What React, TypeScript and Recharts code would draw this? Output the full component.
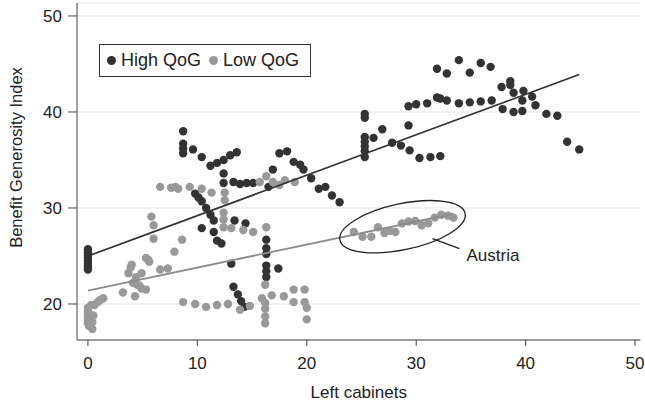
import React from "react";
import {
  ScatterChart,
  Scatter,
  XAxis,
  YAxis,
  CartesianGrid,
  ReferenceDot,
} from "recharts";

// cabinets vs generosity, one point per country-year
const highQoG = [
  { x: 0, y: 25.7 }, { x: 0, y: 25.4 }, { x: 0, y: 25.1 }, { x: 0, y: 24.8 },
  { x: 0, y: 24.5 }, { x: 0, y: 24.2 }, { x: 0, y: 23.9 }, { x: 0, y: 23.6 },
  { x: 8.7, y: 38.0 }, { x: 8.7, y: 36.7 }, { x: 8.7, y: 36.2 }, { x: 8.7, y: 35.7 },
  { x: 9.6, y: 36.1 }, { x: 10.4, y: 35.3 }, { x: 11.2, y: 34.4 }, { x: 11.8, y: 34.7 },
  { x: 12.4, y: 35.0 }, { x: 13.0, y: 35.5 }, { x: 13.6, y: 35.8 },
  { x: 12.4, y: 33.6 }, { x: 12.4, y: 32.6 }, { x: 13.3, y: 32.7 }, { x: 13.9, y: 32.5 },
  { x: 14.5, y: 32.6 }, { x: 15.1, y: 32.6 }, { x: 16.5, y: 32.2 }, { x: 16.9, y: 34.0 },
  { x: 17.5, y: 35.7 }, { x: 18.2, y: 35.9 }, { x: 18.8, y: 34.8 }, { x: 19.4, y: 34.5 },
  { x: 19.7, y: 34.0 }, { x: 20.4, y: 33.1 }, { x: 21.1, y: 32.0 }, { x: 21.7, y: 32.2 },
  { x: 22.3, y: 31.3 }, { x: 23.0, y: 30.6 },
  { x: 9.8, y: 31.5 }, { x: 10.1, y: 31.1 }, { x: 10.4, y: 30.7 }, { x: 10.8, y: 30.0 },
  { x: 11.2, y: 29.3 }, { x: 11.5, y: 28.7 }, { x: 10.4, y: 27.9 }, { x: 11.5, y: 27.5 },
  { x: 11.8, y: 26.6 }, { x: 12.2, y: 26.3 }, { x: 13.4, y: 28.7 }, { x: 14.4, y: 28.4 },
  { x: 13.1, y: 24.2 }, { x: 13.3, y: 21.8 }, { x: 13.7, y: 21.0 }, { x: 14.0, y: 20.3 },
  { x: 14.3, y: 19.7 },
  { x: 16.3, y: 26.7 }, { x: 16.3, y: 25.8 }, { x: 16.3, y: 25.2 }, { x: 16.3, y: 24.0 },
  { x: 16.3, y: 23.4 }, { x: 16.3, y: 22.8 }, { x: 17.4, y: 23.7 },
  { x: 25.3, y: 39.8 }, { x: 25.3, y: 39.4 }, { x: 25.3, y: 37.4 }, { x: 25.3, y: 36.9 },
  { x: 25.3, y: 36.4 }, { x: 25.3, y: 35.9 }, { x: 25.3, y: 35.3 }, { x: 26.1, y: 37.3 },
  { x: 26.9, y: 38.2 }, { x: 27.8, y: 36.8 }, { x: 28.6, y: 36.5 }, { x: 29.4, y: 36.0 },
  { x: 30.3, y: 35.2 }, { x: 31.3, y: 35.3 }, { x: 32.2, y: 35.4 }, { x: 29.3, y: 38.6 },
  { x: 29.3, y: 40.6 }, { x: 30.0, y: 40.8 }, { x: 31.0, y: 40.9 }, { x: 31.9, y: 41.5 },
  { x: 32.2, y: 41.4 }, { x: 32.8, y: 41.2 }, { x: 33.9, y: 40.9 }, { x: 34.9, y: 41.0 },
  { x: 35.9, y: 41.1 }, { x: 36.9, y: 41.2 }, { x: 31.9, y: 44.5 }, { x: 32.8, y: 44.0 },
  { x: 33.9, y: 45.4 }, { x: 34.9, y: 44.1 }, { x: 35.9, y: 45.1 }, { x: 36.8, y: 44.7 },
  { x: 37.8, y: 42.6 }, { x: 38.6, y: 43.2 }, { x: 38.6, y: 42.8 }, { x: 38.9, y: 42.0 },
  { x: 39.8, y: 42.2 }, { x: 39.7, y: 41.2 }, { x: 40.6, y: 41.6 }, { x: 40.9, y: 40.7 },
  { x: 37.9, y: 40.3 }, { x: 38.9, y: 40.0 }, { x: 39.7, y: 40.1 }, { x: 41.9, y: 39.8 },
  { x: 42.9, y: 39.6 }, { x: 43.8, y: 36.9 }, { x: 44.9, y: 36.1 },
];

const lowQoG = [
  { x: 0, y: 19.6 }, { x: 0, y: 19.3 }, { x: 0, y: 18.9 }, { x: 0, y: 18.6 },
  { x: 0, y: 18.3 }, { x: 0, y: 18.0 }, { x: 0.1, y: 17.7 }, { x: 0.4, y: 17.4 },
  { x: 0.3, y: 19.9 }, { x: 0.4, y: 18.1 }, { x: 0.5, y: 18.8 }, { x: 0.6, y: 19.9 },
  { x: 0.9, y: 20.2 }, { x: 1.1, y: 20.4 }, { x: 1.4, y: 20.6 }, { x: 0.2, y: 17.9 },
  { x: 3.2, y: 21.2 }, { x: 3.7, y: 23.2 }, { x: 4.0, y: 24.1 }, { x: 4.1, y: 22.2 },
  { x: 4.3, y: 20.8 }, { x: 4.4, y: 22.8 }, { x: 4.9, y: 23.2 }, { x: 4.9, y: 21.6 },
  { x: 5.3, y: 21.5 }, { x: 5.3, y: 24.8 }, { x: 5.6, y: 24.4 }, { x: 5.5, y: 24.6 },
  { x: 6.6, y: 23.6 }, { x: 7.3, y: 23.7 }, { x: 7.9, y: 25.45 }, { x: 8.6, y: 26.7 },
  { x: 3.9, y: 23.8 }, { x: 4.5, y: 22.0 }, { x: 4.7, y: 21.9 },
  { x: 5.8, y: 29.1 }, { x: 6.0, y: 28.2 }, { x: 6.0, y: 26.8 },
  { x: 6.6, y: 32.2 }, { x: 7.6, y: 32.1 }, { x: 8.0, y: 32.2 }, { x: 8.25, y: 32.0 },
  { x: 9.3, y: 32.2 }, { x: 10.4, y: 32.0 }, { x: 11.3, y: 31.6 }, { x: 12.5, y: 31.6 },
  { x: 12.5, y: 30.8 },
  { x: 12.4, y: 29.5 }, { x: 12.4, y: 28.8 }, { x: 12.4, y: 28.0 }, { x: 13.1, y: 27.9 },
  { x: 14.2, y: 27.7 }, { x: 15.1, y: 27.5 }, { x: 16.3, y: 28.0 }, { x: 15.7, y: 32.7 },
  { x: 16.3, y: 33.3 }, { x: 16.9, y: 32.7 }, { x: 17.5, y: 32.4 }, { x: 18.0, y: 32.9 },
  { x: 18.9, y: 32.7 },
  { x: 8.7, y: 20.2 }, { x: 9.8, y: 20.0 }, { x: 10.8, y: 19.7 }, { x: 11.8, y: 19.9 },
  { x: 12.8, y: 20.0 }, { x: 13.9, y: 19.4 }, { x: 14.8, y: 19.8 }, { x: 15.9, y: 20.6 },
  { x: 16.2, y: 22.0 }, { x: 16.2, y: 20.1 }, { x: 16.2, y: 19.5 }, { x: 16.2, y: 18.7 },
  { x: 16.2, y: 18.0 }, { x: 16.8, y: 20.9 }, { x: 17.9, y: 20.8 }, { x: 18.8, y: 21.5 },
  { x: 19.8, y: 21.5 }, { x: 18.8, y: 20.2 }, { x: 19.8, y: 20.2 }, { x: 20.0, y: 19.6 },
  { x: 20.0, y: 18.4 },
  // Austria
  { x: 24.3, y: 27.5 }, { x: 25.1, y: 27.0 }, { x: 25.9, y: 27.0 }, { x: 26.5, y: 28.0 },
  { x: 27.1, y: 27.4 }, { x: 27.6, y: 27.6 }, { x: 28.1, y: 27.5 }, { x: 28.7, y: 28.4 },
  { x: 29.3, y: 28.6 }, { x: 29.9, y: 28.65 }, { x: 30.5, y: 28.2 }, { x: 31.1, y: 28.4 },
  { x: 31.7, y: 29.0 }, { x: 32.3, y: 29.3 }, { x: 32.9, y: 29.2 }, { x: 33.4, y: 29.0 },
];

// linear fit end points
const highFit = [{ x: 0, y: 25.0 }, { x: 44.9, y: 43.9 }];
const lowFit = [{ x: 0, y: 21.4 }, { x: 33.4, y: 29.4 }];

const xTicks = [0, 10, 20, 30, 40, 50];
const yTicks = [20, 30, 40, 50];
const seriesNames = ["High QoG", "Low QoG"];
const austria = { x: 28.75, y: 28.05, label: "Austria" };

const DARK = "#333333";
const GREY = "#999999";
const FONT = "'Liberation Sans', Arial, Helvetica, sans-serif";

const dot = (fill: string) => (props: any) =>
  <circle cx={props.cx} cy={props.cy} r={4.2} fill={fill} />;

const noDot = () => <g />;

const AustriaMark = (props: any) => {
  const { cx, cy } = props;
  return (
    <g>
      <ellipse
        cx={cx}
        cy={cy}
        rx={64}
        ry={23}
        transform={`rotate(-12 ${cx} ${cy})`}
        fill="none"
        stroke="#222"
        strokeWidth={1.3}
      />
      <line x1={cx + 30} y1={cy + 12} x2={cx + 57} y2={cy + 22} stroke="#222" strokeWidth={1.3} />
      <text x={cx + 64} y={cy + 34} fontSize={17} fill="#222" fontFamily={FONT}>
        {austria.label}
      </text>
    </g>
  );
};

const YTitle = (props: any) => {
  const vb = props.viewBox;
  return (
    <text
      transform={`translate(22, ${vb.y + vb.height / 2 - 14}) rotate(-90)`}
      textAnchor="middle"
      fontSize={16.5}
      fill="#222"
      fontFamily={FONT}
    >
      Benefit Generosity Index
    </text>
  );
};

export default function App() {
  return (
    <div style={{ position: "absolute", left: 0, top: 0, width: 645, height: 404, fontFamily: FONT, background: "#fff" }}>
      <ScatterChart width={645} height={404} margin={{ top: 3, right: 4.5, bottom: 0, left: 0 }}>
        <CartesianGrid vertical={false} stroke="#ececec" strokeWidth={1.5} />
        <XAxis
          type="number"
          dataKey="x"
          domain={[-1, 50.5]}
          ticks={xTicks}
          allowDataOverflow
          height={64}
          tickSize={6}
          tickMargin={11}
          stroke="#444"
          tick={{ fontSize: 17, fill: "#222", fontFamily: FONT }}
          label={{ value: "Left cabinets", position: "insideBottom", offset: 6, fontSize: 17, fill: "#222", fontFamily: FONT }}
        />
        <YAxis
          type="number"
          dataKey="y"
          domain={[16.25, 51.35]}
          ticks={yTicks}
          allowDataOverflow
          width={77}
          tickSize={9}
          tickMargin={6}
          stroke="#444"
          tick={{ fontSize: 17, fill: "#222", fontFamily: FONT }}
          label={{ content: YTitle }}
        />
        <Scatter name={seriesNames[0]} data={highQoG} fill={DARK} shape={dot(DARK)} isAnimationActive={false} />
        <Scatter name={seriesNames[1]} data={lowQoG} fill={GREY} shape={dot(GREY)} isAnimationActive={false} />
        <Scatter data={highFit} line={{ stroke: "#333", strokeWidth: 1.8 }} shape={noDot} isAnimationActive={false} legendType="none" />
        <Scatter data={lowFit} line={{ stroke: "#8c8c8c", strokeWidth: 1.8 }} shape={noDot} isAnimationActive={false} legendType="none" />
        <ReferenceDot x={austria.x} y={austria.y} r={0} shape={AustriaMark} />
      </ScatterChart>
      <div
        style={{
          position: "absolute",
          left: 99,
          top: 44,
          width: 210,
          height: 31,
          border: "1px solid #333",
          background: "#fff",
          display: "flex",
          alignItems: "center",
          boxSizing: "content-box",
          fontSize: 18,
          color: "#222",
          whiteSpace: "nowrap",
        }}
      >
        <span style={{ display: "inline-block", width: 9, height: 9, borderRadius: "50%", background: DARK, marginLeft: 7, marginRight: 5 }} />
        <span>{seriesNames[0]}</span>
        <span style={{ display: "inline-block", width: 9, height: 9, borderRadius: "50%", background: GREY, marginLeft: 8, marginRight: 5 }} />
        <span>{seriesNames[1]}</span>
      </div>
    </div>
  );
}
